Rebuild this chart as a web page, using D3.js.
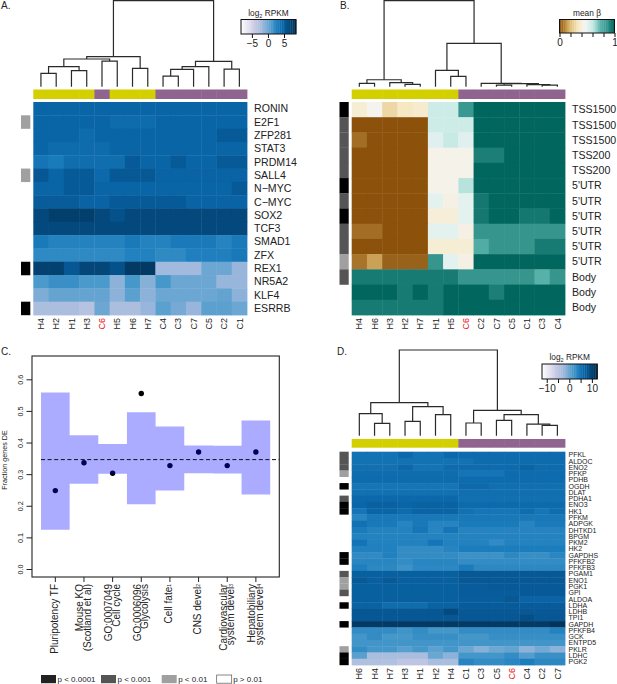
<!DOCTYPE html>
<meta charset="utf-8">
<head>
<style type="text/css">
  html, body { margin: 0; padding: 0; background: white; }
  svg { display: block; }
  text { font-family: "Liberation Sans", Arial, sans-serif; fill: #222; }
</style>
</head>
<div id="my_dataviz"></div>
<script src="https://d3js.org/d3.v7.min.js"></script>
<script>

// panel A
var colsA = ["H4","H2","H1","H3","C6","H5","H6","H7","C4","C3","C7","C5","C2","C1"];
var rowsA = ["RONIN","E2F1","ZFP281","STAT3","PRDM14","SALL4","N\u2212MYC","C\u2212MYC","SOX2","TCF3","SMAD1","ZFX","REX1","NR5A2","KLF4","ESRRB"];
var valsA = [
  [4.6,4.6,4.6,4.6,4.6,4.6,4.6,4.6,4.6,4.6,4.6,4.6,4.6,4.6],
  [4.6,4.6,4.6,4.6,4.6,4.2,4.2,4.2,4.6,4.6,4.6,4.6,4.6,4.6],
  [4.6,4.6,4.6,4.2,4.6,4.6,4.6,4.6,4.6,4.6,4.6,4.6,5.3,5.3],
  [4.6,4.2,4.2,4.2,4.2,4.6,4.6,4.6,4.6,4.6,4.6,4.6,4.6,4.6],
  [3.6,3.2,4.0,4.0,4.0,4.0,5.3,4.6,4.6,5.3,4.6,4.6,5.3,5.3],
  [5.5,4.6,5.3,5.3,4.3,5.4,5.4,5.4,4.7,4.7,4.7,4.7,4.7,4.7],
  [4.6,4.6,5.3,5.3,4.6,4.6,4.6,4.6,4.6,4.6,4.6,4.6,4.6,5.3],
  [5.2,5.2,5.2,4.7,4.7,5.3,5.3,5.3,5.3,5.3,4.7,4.7,4.7,4.7],
  [6.7,7.5,7.5,7.5,6.7,5.9,6.7,6.7,6.7,6.7,6.7,6.7,6.7,6.7],
  [6.6,6.6,6.6,6.6,6.6,6.6,6.6,6.6,6.6,6.6,6.6,6.6,6.6,6.6],
  [3.3,2.7,2.7,2.7,2.7,2.7,3.3,2.7,2.7,3.3,3.3,3.3,2.6,3.3],
  [2.2,2.2,2.2,2.2,2.2,2.2,2.8,2.8,2.2,2.2,2.9,2.9,2.9,3.4],
  [7.3,7.3,5.5,6.9,6.9,5.9,7.8,7.8,-2,-2,-2,0,0,-1.5],
  [1.0,1.7,1.7,1.0,1.0,-1,1.2,-0.8,1.2,0,0,0,-1.5,-1.5],
  [-0.5,0.2,0.2,0.2,0.2,-1,0.5,-1,0,0,0,0,0.3,-1],
  [-2.5,-2.5,-2.5,-3,0,-2.5,-2.5,-1.5,0.5,-0.3,-1.5,0.5,0.5,0]
];
var sideA = [0,3,0,0,0,3,0,0,0,0,0,0,1,0,0,1];
// dendrograms: [left, right, height], a number is a column index
var treeA = [[[[[0,1,15.5],[2,3,18.6],23.3],[4,5,29.8],32.2],[6,7,21.3],34.9],
             [[[[8,9,12.4],10,20.2],11,23.3],[12,13,20.5],29.5],100];
var ticksA = [-5,0,5];

// panel B
var colsB = ["H4","H6","H3","H2","H7","H1","H5","C6","C2","C7","C5","C1","C3","C4"];
var rowsB = ["TSS1500","TSS1500","TSS1500","TSS200","TSS200","5'UTR","5'UTR","5'UTR","5'UTR","5'UTR","5'UTR","Body","Body","Body"];
var valsB = [
  [.38,.45,.28,.33,.36,.58,.58,.85,1,1,1,1,1,1],
  [0,0,0,0,0,.58,.58,.58,1,1,1,1,1,1],
  [.05,0,0,0,0,.53,.6,.53,1,1,1,1,1,1],
  [0,0,0,0,0,.44,.44,.44,.93,.93,1,1,1,1],
  [0,0,0,0,0,.44,.44,.44,1,1,1,1,1,1],
  [0,0,0,0,0,.44,.44,.62,1,1,1,1,1,1],
  [0,0,0,0,0,.52,.42,.52,.95,1,1,1,1,1],
  [0,0,0,0,0,.39,.39,.52,.95,1,1,.95,.95,1],
  [.05,.05,0,0,0,.52,.52,.42,.86,.86,.86,.86,.86,.86],
  [0,0,0,0,0,.38,.38,.38,.78,.86,.86,.86,.94,.94],
  [.06,.14,.03,.03,.03,.86,.52,.42,1,1,1,1,1,1],
  [.94,.94,.94,.94,.94,.94,.94,.86,.86,.86,.86,.86,.76,.86],
  [1,1,1,.94,1,.94,1,1,1,.93,1,1,1,1],
  [.94,.94,.94,.94,.94,.94,1,1,1,1,1,1,1,1]
];
var sideB = [1,2,2,2,2,1,2,1,2,2,3,2,0,0];
var treeB = [[[0,1,3.9],[2,[3,4,2.7],4.7],8.1],
             [[5,[6,7,12],19],[8,[[9,10,1.9],[11,[12,13,1.9],2.3],3.5],3.9],50.4],100];
var ticksB = [0,.2,.4,.6,.8,1];

// panel C
var catsC = ["Pluripotency TF","Mouse KO","GO:0007049","GO:0006096","Cell fate","CNS devel","Cardiovascular","Hepatobiliary"];
var cats2C = ["","(Scotland et al)","Cell cycle","Glycolysis","","","system devel","system devel"];
var supsC = ["","","","","1","2","3","4"];
var upperC = [.558,.423,.395,.496,.451,.391,.390,.470];
var lowerC = [.124,.270,.301,.205,.248,.303,.302,.236];
var pointsC = [.248,.336,.303,.555,.327,.370,.327,.370];
var meanC = .346;
var ticksC = [0,.1,.2,.3,.4,.5,.6];
var legendC = ["p < 0.0001","p < 0.001","p < 0.01","p > 0.01"];

// panel D
var colsD = ["H6","H4","H7","H3","H1","H2","H4","C1","C3","C5","C6","C4","C2","C7"];
var rowsD = ["PFKL","ALDOC","ENO2","PFKP","PDHB","OGDH","DLAT","PDHA1","ENO3","HK1","PFKM","ADPGK","DHTKD1","BPGM","PKM2","HK2","GAPDHS","PFKFB2","PFKFB3","PGAM1","ENO1","PGK1","GPI","ALDOA","LDHA","LDHB","TPI1","GAPDH","PFKFB4","GCK","ENTPD5","PKLR","LDHC","PGK2"];
var valsD = [
  [5.3,5.3,5.3,6.2,5.3,5.3,6.2,5.9,5.9,5.9,5.9,5.9,5.9,5.9],
  [5.3,5.3,5.3,5.3,5.3,5.3,5.3,5.3,5.9,5.9,5.9,5.9,5.9,5.9],
  [5.5,5.5,5.5,6.2,5.2,5.2,5.9,5.9,5.9,5.9,6,6.6,5.9,5.9],
  [5.8,5.8,5.8,5.8,5.8,5.8,5.8,5.1,5.1,5.1,5.9,5.9,5.9,5.9],
  [5.9,5.9,5.9,5.9,5.9,5.9,5.9,5.9,5.9,5.9,5.9,5.9,5.9,5.9],
  [5,5,5,5,5,5,5,6.1,6.1,5.6,5.6,5.6,5.6,5.6],
  [5.4,5.4,5.4,5.4,5.4,5.4,5.4,5.6,5.6,5.6,5.6,5.6,5.6,5.6],
  [6.2,6.2,6.2,6.2,6.2,6.2,6.2,5.5,5.5,5.5,5.5,5.5,5.5,5.5],
  [6.4,6.9,6.9,6.5,6.8,6.8,6.8,6,6,6,6,6,6,6],
  [5,6.5,6.5,5.9,6.6,6.6,6.6,5.4,5,5,5,5.8,5,5.8],
  [3.5,4.8,4.8,4.8,4.8,4.8,4.8,4.8,4.8,4.8,4.8,4.8,4.8,4.8],
  [5.4,4.7,4.7,3.6,4.8,3.6,3.6,4.5,4.5,4.5,4.5,3.6,4.6,4.6],
  [4.5,3.8,3.8,3.8,5,3.5,5,3.7,3.7,3.7,3.7,3.7,3.7,3.7],
  [3.9,3.8,3.8,3.8,3.8,3.8,3.8,3.8,3.8,3.8,3.8,3.8,3.8,3.8],
  [5.2,3.9,3.9,3.9,3.9,5,3.9,3.9,3.8,3,3.8,3.8,3.8,3.8],
  [4,4,4,2.8,2.8,2.8,3.6,4.3,4.3,4.3,4.3,4.3,4.3,4.3],
  [3,3,4,2.8,2.8,2.8,2.8,2.3,2.3,2.3,3.2,2.5,2.5,3.4],
  [3.4,3.4,3.4,2.8,3.4,3.4,3.4,2.8,2.8,2.8,2.8,2.8,2.8,2.8],
  [4.2,3.2,3.2,2.2,3.3,3.3,3.3,4.4,3.2,3.2,3.2,3.2,3.2,3.2],
  [7,7,7,7,7,7,7,7.7,7.7,7.7,7.7,7.7,7.7,7.7],
  [7.6,7,7.6,7,7,7,7,7.7,7.7,7.7,7.7,7.7,7.7,7.7],
  [7,7,7,7,7,7,7,7.3,7.3,7.5,7.5,7.6,7.6,7.6],
  [7,7,7,7,7,7,7,7.3,7.3,7.3,7.3,7.6,7.6,7.6],
  [7,7,7,7,7,7,7,7.2,7.2,7.2,7.7,6.6,6.6,6.6],
  [6.8,6.8,5.8,5.8,5.8,6.8,6.8,7.4,7.4,7.4,7.4,7.4,7.4,7.4],
  [7.8,7.8,7.8,7.8,7.8,7.8,9.2,7.7,7.7,7.7,7.7,7.7,7.7,7.7],
  [7.8,7.8,7.8,7.8,7.8,7.8,7.8,7.8,7.8,7.8,7.8,8.6,7.8,7.8],
  [11,11,11,11,11,11,11,11,11,11,11,11,11,11.5],
  [2.8,2.8,2.8,2,2.8,1.7,1.7,2.8,2.8,2.8,2.8,2.8,2.8,3.8],
  [1.8,2.8,1.6,1.6,2.5,2.5,2.5,1.7,1.7,2.5,2.5,2.5,2.5,2.5],
  [1.9,1.9,1.9,1.9,1.9,1.9,1.9,1.9,1.9,1.9,1.9,1.9,1.9,1.9],
  [2.8,1.7,1.7,0.8,1.7,0.6,1.7,0,-1.2,-0.2,0.3,-1.5,-0.4,-1.5],
  [0.7,-3.5,-3.5,-3.5,-3.5,0,-1.5,1.8,1.8,1.8,2.8,1,2.4,2.4],
  [-4,-4,-4,-5,-5,-3.5,-3.5,3.6,2.8,2.8,3.4,4.3,3.2,3.2]
];
var sideD = [2,2,2,3,0,1,0,2,1,1,0,0,0,0,0,0,1,1,0,2,3,3,2,0,1,0,0,1,0,0,0,3,1,1];
var treeD = [[[0,[1,2,14.4],25.7],[[3,4,16.7],[5,6,24.5],33.9],38.5],
             [[7,8,14.8],[[9,10,17.9],[11,[12,13,12],13.6],24.5],29.6],100];
var ticksD = [-10,-5,0,5,10];

// colours
var sideColors = ["none","#000000","#555555","#a0a0a0"];
var legendColors = ["#222222","#555555","#a0a0a0","#ffffff"];
var yellow = "#d4d000", purple = "#8f6590";
var blueRamp = d3.scaleLinear()
  .domain([0,.257,.43,.55,.67,.755,.84,.93,1])
  .range(["#ffffff","#c9c9e4","#8fb3d9","#4a9acb","#1c7dbd","#0a66a8","#05508a","#033f6c","#022a4a"]);
var greenRamp = d3.scaleLinear()
  .domain([0,.17,.33,.47,.6,.75,.88,1])
  .range(["#8c510a","#d8b365","#f6e8c3","#f5f5f5","#c7eae5","#5ab4ac","#2f9088","#01665e"]);

var svg = d3.select("#my_dataviz")
  .append("svg")
  .attr("width", 617)
  .attr("height", 684);

// draw one clustered heatmap, with its strip, side bars, labels and dendrogram
function heatmap(c) {
  var x = d3.scaleBand().domain(d3.range(c.cols.length)).range([c.x0, c.x1]);
  var y = d3.scaleBand().domain(d3.range(c.rows.length)).range([c.y0, c.y1]);
  var g = svg.append("g");

  c.vals.forEach(function(row, i) {
    g.selectAll(null)
      .data(row)
      .enter()
      .append("rect")
        .attr("x", function(d, j) { return x(j); })
        .attr("y", y(i))
        .attr("width", x.bandwidth() + 0.4)
        .attr("height", y.bandwidth() + 0.4)
        .style("fill", function(d) { return c.color(d); });
  });

  // side bars
  g.selectAll(null)
    .data(c.side)
    .enter()
    .append("rect")
      .attr("x", c.sideX)
      .attr("y", function(d, i) { return y(i); })
      .attr("width", c.sideW)
      .attr("height", y.bandwidth() + 0.2)
      .style("fill", function(d) { return sideColors[d]; });

  // H / C strip, coloured by the first letter of the column name
  g.selectAll(null)
    .data(c.cols)
    .enter()
    .append("rect")
      .attr("x", function(d, i) { return x(i); })
      .attr("y", c.stripY)
      .attr("width", x.bandwidth() + 0.4)
      .attr("height", c.stripH)
      .style("fill", function(d) { return d[0] == "H" ? yellow : purple; });

  g.selectAll(null)
    .data(c.rows)
    .enter()
    .append("text")
      .text(function(d) { return d; })
      .attr("x", c.x1 + c.labelGap)
      .attr("y", function(d, i) { return y(i) + y.bandwidth() / 2; })
      .attr("dy", "0.35em")
      .style("font-size", c.rowFont + "px");

  g.selectAll(null)
    .data(c.cols)
    .enter()
    .append("text")
      .text(function(d) { return d; })
      .attr("transform", function(d, i) {
        return "translate(" + (x(i) + x.bandwidth() / 2) + "," + (c.y1 + 3) + ") rotate(-90)";
      })
      .attr("dy", "0.35em")
      .attr("text-anchor", "end")
      .style("font-size", "9px")
      .style("fill", function(d) { return d == "C6" ? "#ee1111" : "#222"; });

  // dendrogram
  var h = d3.scaleLinear().domain([0, 100]).range([c.leafY, c.topY]);
  function walk(n) {
    if (typeof n == "number") return { x: x(n) + x.bandwidth() / 2, y: c.leafY };
    var a = walk(n[0]), b = walk(n[1]), yy = h(n[2]);
    g.append("path")
      .attr("d", d3.line()([[a.x, a.y], [a.x, yy], [b.x, yy], [b.x, b.y]]))
      .style("fill", "none")
      .style("stroke", "#2a2a2a")
      .style("stroke-width", 1.2);
    return { x: (a.x + b.x) / 2, y: yy };
  }
  walk(c.tree);
}

// colour key above the heatmaps
function colorKey(c) {
  var s = d3.scaleLinear().domain(c.domain).range([c.x0, c.x1]);
  var g = svg.append("g");
  var n = 30, w = (c.x1 - c.x0) / n;
  g.selectAll(null)
    .data(d3.range(n))
    .enter()
    .append("rect")
      .attr("x", function(d) { return c.x0 + d * w; })
      .attr("y", c.y0)
      .attr("width", w + 0.3)
      .attr("height", c.h)
      .style("fill", function(d) { return c.ramp((d + 0.5) / n); });
  g.append("rect")
    .attr("x", c.x0).attr("y", c.y0)
    .attr("width", c.x1 - c.x0).attr("height", c.h)
    .style("fill", "none").style("stroke", "#111").style("stroke-width", 1);

  var axis = d3.axisBottom(s).tickValues(c.ticks).tickSize(4).tickPadding(1.5)
    .tickFormat(c.format || d3.format("d"));
  var a = g.append("g").attr("transform", "translate(0," + (c.y0 + c.h) + ")").call(axis);
  a.select(".domain").remove();
  a.selectAll("line").style("stroke", "#111");
  a.selectAll("text").style("font-size", "10px");

  var t = g.append("text")
    .attr("x", (c.x0 + c.x1) / 2)
    .attr("y", c.y0 - 4)
    .attr("text-anchor", "middle")
    .style("font-size", "8.3px");
  if (c.title == "mean") {
    t.text("mean \u03b2");
  } else {
    t.append("tspan").text("log");
    t.append("tspan").text("2").attr("dy", 2).style("font-size", "5.5px");
    t.append("tspan").text(" RPKM").attr("dy", -2);
  }
}

heatmap({ cols: colsA, rows: rowsA, vals: valsA, side: sideA, tree: treeA,
  color: function(v) { return blueRamp((v + 8.4) / 17.1); },
  x0: 33.3, x1: 247, y0: 102, y1: 315, stripY: 89.5, stripH: 9.5,
  sideX: 21, sideW: 9.3, labelGap: 7, rowFont: 10.6, leafY: 86.7, topY: 0.7 });

heatmap({ cols: colsB, rows: rowsB, vals: valsB, side: sideB, tree: treeB,
  color: greenRamp,
  x0: 351.7, x1: 565, y0: 102, y1: 315, stripY: 89.5, stripH: 9.5,
  sideX: 339.5, sideW: 9.2, labelGap: 7, rowFont: 10.6, leafY: 86.7, topY: 0.7 });

heatmap({ cols: colsD, rows: rowsD, vals: valsD, side: sideD, tree: treeD,
  color: function(v) { return blueRamp((v + 12.1) / 24.5); },
  x0: 351.7, x1: 565, y0: 451.7, y1: 665, stripY: 439, stripH: 8.7,
  sideX: 339.5, sideW: 9.2, labelGap: 3.5, rowFont: 7, leafY: 435.7, topY: 350 });

colorKey({ domain: [-8.4, 8.75], x0: 241, x1: 296, y0: 19.5, h: 14.5, ticks: ticksA, title: "log", ramp: blueRamp });
colorKey({ domain: [0, 1], x0: 559.5, x1: 614.5, y0: 19.5, h: 13.5, ticks: ticksB, title: "mean", ramp: greenRamp,
  format: function(d) { return d == 0 || d == 1 ? d3.format("d")(d) : ""; } });
colorKey({ domain: [-12.1, 12.4], x0: 542, x1: 597.3, y0: 364, h: 15, ticks: ticksD, title: "log", ramp: blueRamp,
  format: function(d) { return d % 10 == 0 ? d3.format("d")(d) : ""; } });

// panel C
var xC = d3.scaleBand().domain(d3.range(catsC.length)).range([41, 270.2]);
var yC = d3.scaleLinear().domain([0, .6]).range([569, 379.3]);
var gC = svg.append("g");

gC.selectAll("circle")
  .data(pointsC)
  .enter()
  .append("circle")
    .attr("cx", function(d, i) { return xC(i) + xC.bandwidth() / 2; })
    .attr("cy", function(d) { return yC(d); })
    .attr("r", 2.7)
    .style("fill", "#000");

// band goes over the points, as in the original
var bandData = upperC.map(function(u, i) { return { i: i, u: u, l: lowerC[i] }; });
bandData.push({ i: upperC.length, u: upperC[upperC.length - 1], l: lowerC[lowerC.length - 1] });
var bandX = d3.scaleLinear().domain([0, catsC.length]).range(xC.range());
gC.append("path")
  .datum(bandData)
  .attr("d", d3.area()
    .curve(d3.curveStepAfter)
    .x(function(d) { return bandX(d.i); })
    .y0(function(d) { return yC(d.l); })
    .y1(function(d) { return yC(d.u); }))
  .style("fill", "#0000ff")
  .style("fill-opacity", 0.33);

gC.append("line")
  .attr("x1", 41).attr("x2", 279.3)
  .attr("y1", yC(meanC)).attr("y2", yC(meanC))
  .style("stroke", "#111")
  .style("stroke-width", 1)
  .style("stroke-dasharray", "4,2.6");

gC.append("rect")
  .attr("x", 32).attr("y", 356)
  .attr("width", 247.3).attr("height", 221)
  .style("fill", "none").style("stroke", "#222").style("stroke-width", 1.1);

var axL = gC.append("g").attr("transform", "translate(32,0)")
  .call(d3.axisLeft(yC).tickValues(ticksC).tickSize(5.5).tickPadding(4).tickFormat(d3.format(".1f")));
axL.select(".domain").remove();
axL.selectAll("line").style("stroke", "#222");
axL.selectAll("text")
  .attr("transform", function() { return "rotate(-90," + d3.select(this).attr("x") + ",0)"; })
  .attr("text-anchor", "middle")
  .attr("dy", "0")
  .style("font-size", "7.2px");

var axB = gC.append("g").attr("transform", "translate(0,577)")
  .call(d3.axisBottom(xC).tickSize(5).tickFormat(""));
axB.select(".domain").remove();
axB.selectAll("line").style("stroke", "#222");

gC.append("text")
  .text("Fraction genes DE")
  .attr("transform", "translate(7,460) rotate(-90)")
  .attr("text-anchor", "middle")
  .style("font-size", "7.2px");

catsC.forEach(function(cat, i) {
  var cx = xC(i) + xC.bandwidth() / 2;
  var two = cats2C[i] != "";
  var t = gC.append("text")
    .attr("transform", "translate(" + (cx + (two ? -4.2 : -1)) + ",584) rotate(-90)")
    .attr("dy", "0.35em")
    .attr("text-anchor", "end")
    .style("font-size", "10px")
    .text(cat);
  if (two) {
    t = gC.append("text")
      .attr("transform", "translate(" + (cx + 3.6) + ",584) rotate(-90)")
      .attr("dy", "0.35em")
      .attr("text-anchor", "end")
      .style("font-size", "10px")
      .text(cats2C[i]);
  }
  if (supsC[i] != "") {
    t.append("tspan").text(supsC[i]).attr("dy", "-0.3em").style("font-size", "5px");
  }
});

// p value legend
var legX = d3.scaleOrdinal().domain(legendC).range([41, 101, 161.7, 216.7]);
var legG = gC.selectAll(null).data(legendC).enter().append("g");
legG.append("rect")
  .attr("x", function(d) { return legX(d); })
  .attr("y", 675)
  .attr("width", 15)
  .attr("height", 8.2)
  .style("fill", function(d, i) { return legendColors[i]; })
  .style("stroke", function(d, i) { return i == 3 ? "#555" : "none"; })
  .style("stroke-width", 0.7);
legG.append("text")
  .text(function(d) { return d; })
  .attr("x", function(d) { return legX(d) + 16.5; })
  .attr("y", 679)
  .attr("dy", "0.35em")
  .style("font-size", "8px");

// panel letters
svg.selectAll(".letter")
  .data([["A.",1,9],["B.",340,8.5],["C.",1,355],["D.",337,355]])
  .enter()
  .append("text")
    .text(function(d) { return d[0]; })
    .attr("x", function(d) { return d[1]; })
    .attr("y", function(d) { return d[2]; })
    .style("font-size", "10px");

</script>
